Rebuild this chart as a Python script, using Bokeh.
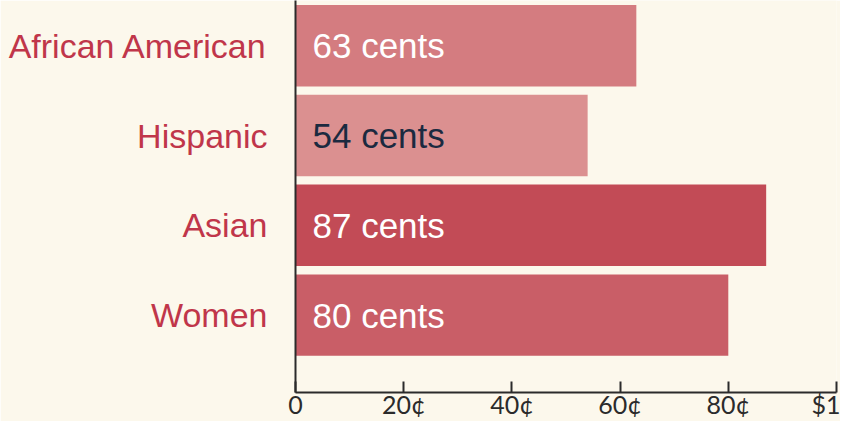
from bokeh.plotting import figure
from bokeh.models import ColumnDataSource, Range1d, FixedTicker, LinearAxis
from bokeh.core.properties import value
from bokeh.embed import file_html
from bokeh.resources import INLINE

# ---- data ----
categories = ["Women", "Asian", "Hispanic", "African American"]
cents = [80, 87, 54, 63]
bar_labels = ["80 cents", "87 cents", "54 cents", "63 cents"]
bar_colors = ["#c95e67", "#c24b56", "#db9090", "#d47c80"]
label_colors = ["#ffffff", "#ffffff", "#1b2a40", "#ffffff"]
x_ticks = [0, 20, 40, 60, 80, 100]
x_tick_labels = ["0", "20¢", "40¢", "60¢", "80¢", "$1"]

BG = "#fcf8ec"
RED = "#c0364a"
INK = "#2b2b2b"

ys = list(range(len(categories)))
src = ColumnDataSource(dict(y=ys, cents=cents, label=bar_labels,
                            color=bar_colors, tcolor=label_colors,
                            x0=[0] * len(ys)))

p = figure(width=840, height=421, output_backend="svg", toolbar_location=None,
           x_range=Range1d(0, 100), y_range=Range1d(-0.862, 3.504),
           x_axis_location=None, y_axis_location=None,
           min_border_left=295, min_border_right=4, min_border_top=0,
           min_border_bottom=0)
p.background_fill_color = BG
p.border_fill_color = BG
p.outline_line_color = None
p.xgrid.visible = False
p.ygrid.visible = False

p.hbar(y="y", left=0, right="cents", height=0.907, fill_color="color",
       line_color=None, source=src)
p.text(x="x0", y="y", text="label", text_color="tcolor", x_offset=17,
       text_baseline="middle", text_align="left", text_font_size="35px",
       text_font=value("Liberation Sans"), source=src)

# x axis
xa = LinearAxis(ticker=FixedTicker(ticks=x_ticks))
xa.major_label_overrides = {t: l for t, l in zip(x_ticks, x_tick_labels)}
xa.axis_line_color = INK
xa.axis_line_width = 2
xa.major_tick_line_color = INK
xa.major_tick_line_width = 2
xa.major_tick_in = 11
xa.major_tick_out = 0
xa.minor_tick_line_color = None
xa.major_label_standoff = -4
xa.major_label_text_font = "Lato"
xa.major_label_text_font_size = "25px"
xa.major_label_text_color = INK
p.add_layout(xa, "below")

# y axis
ya = LinearAxis(ticker=FixedTicker(ticks=ys))
ya.major_label_overrides = {t: c for t, c in zip(ys, categories)}
ya.axis_line_color = INK
ya.axis_line_width = 2
ya.major_tick_line_color = None
ya.minor_tick_line_color = None
ya.major_label_standoff = 22
ya.major_label_text_font = "Liberation Sans"
ya.major_label_text_font_size = "34px"
ya.major_label_text_color = RED
p.add_layout(ya, "left")

open("out.html", "w").write(file_html(p, INLINE))
